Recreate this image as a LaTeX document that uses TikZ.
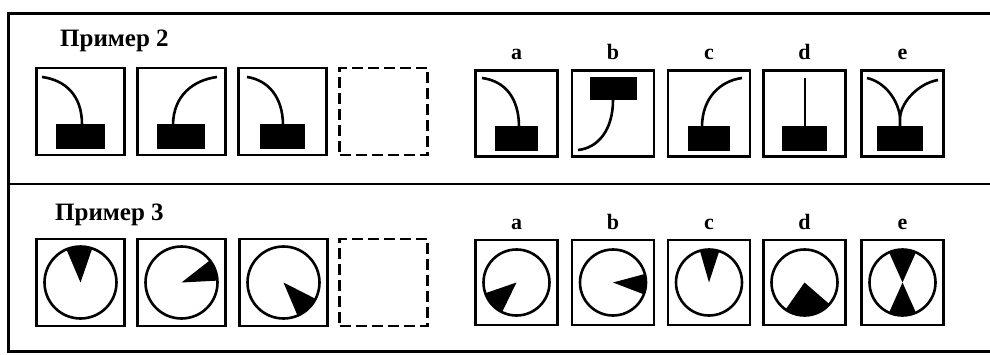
\documentclass[tikz,border=0pt]{standalone}
\usepackage{fontspec}
\setmainfont{Liberation Serif}
\begin{document}
\begin{tikzpicture}[x=1pt,y=1pt,
    cell/.style={draw,line width=2.8pt,minimum width=88pt,minimum height=87pt,inner sep=0pt},
    choice/.style={cell,minimum width=82pt,minimum height=86pt},
    blank/.style={cell,line width=2.4pt,dash pattern=on 11pt off 5pt},
    tag/.style={font=\bfseries\fontsize{22}{24}\selectfont,anchor=base,inner sep=0pt},
    title/.style={font=\bfseries\fontsize{25}{28}\selectfont,anchor=base west,inner sep=0pt},
    wire/.style={line width=2.6pt},
    lamp/.style={fill=black}]
\useasboundingbox (0,0) rectangle (990,354);
% frame
\draw[line width=3pt] (990,340) -- (8,340) -- (8,3) -- (990,3);
\draw[line width=2.6pt] (8,170) -- (990,170);

% Пример 2
\node[title] (t2) at (60,307) {Пример 2};
\foreach \n/\x in {1/80.5,2/181.5,3/282.5}
  \node[cell] (p\n) at (\x,242.5) {};
\node[blank] (p4) at (383.5,242.5) {};
\foreach \n/\x in {a/516.5,b/613,c/709,d/804.5,e/902.5}{
  \node[choice] (\n1) at (\x,240.5) {};
  \node[tag] (l\n1) at ([yshift=10pt]\n1.north) {\n};
}
\begin{scope}[shift={(p1.center)}]
  \draw[wire] (-38.5,34.5) .. controls (-15.5,31.5) and (1.5,16.5) .. (1.5,-13);
  \fill[lamp] (-25,-12.5) rectangle (24,-37);
\end{scope}
\begin{scope}[shift={(p2.center)}]
  \draw[wire] (35.5,34.5) .. controls (12.5,31.5) and (-8.5,16.5) .. (-8.5,-14);
  \fill[lamp] (-24.5,-13) rectangle (23.5,-37);
\end{scope}
\begin{scope}[shift={(p3.center)}]
  \draw[wire] (-35.5,34.5) .. controls (-14.5,31.5) and (0.5,14.5) .. (0.5,-14);
  \fill[lamp] (-22.5,-13) rectangle (22.5,-37);
\end{scope}
% choices
\begin{scope}[shift={(a1.center)}]
  \draw[wire] (-34.5,35.5) .. controls (-11.5,32.5) and (2.5,15.5) .. (2.5,-13.5);
  \fill[lamp] (-21.5,-12.5) rectangle (21.5,-37);
\end{scope}
\begin{scope}[shift={(b1.center)}]
  \fill[lamp] (-23,36) rectangle (24,13);
  \draw[wire] (0,13.5) .. controls (0,-16.5) and (-15,-34.5) .. (-35,-36.5);
\end{scope}
\begin{scope}[shift={(c1.center)}]
  \draw[wire] (33,35.5) .. controls (11,32.5) and (-7,15.5) .. (-7,-13.5);
  \fill[lamp] (-21,-12.5) rectangle (21,-37);
\end{scope}
\begin{scope}[shift={(d1.center)}]
  \draw[wire] (0.5,35.5) -- (0.5,-13.5);
  \fill[lamp] (-22.5,-12.5) rectangle (22.5,-37);
\end{scope}
\begin{scope}[shift={(e1.center)}]
  \draw[wire] (-35.5,35.5) .. controls (-17.5,31.5) and (-4.5,13.5) .. (-2.5,-3.5);
  \draw[wire] (35.5,33.5) .. controls (17.5,30.5) and (-0.5,13.5) .. (-2.5,-3.5) -- (-2.5,-13.5);
  \fill[lamp] (-25.5,-12.5) rectangle (20.5,-37);
\end{scope}

% Пример 3
\node[title] (t3) at (55,134) {Пример 3};
\foreach \n/\x in {1/80.5,2/181.5,3/283.5}
  \node[cell] (q\n) at (\x,71.5) {};
\node[blank] (q4) at (383.5,71.5) {};
\foreach \n/\x in {a/516.5,b/613,c/709,d/804.5,e/902.5}{
  \node[choice,minimum height=85pt] (\n2) at (\x,71.5) {};
  \node[tag] (l\n2) at ([yshift=9pt]\n2.north) {\n};
}
\foreach \n/\s/\e/\r in {q1/71/113/36, q2/3/38/36, q3/-67/-27/36,
    a2/199/244/33, b2/-21/15/33, c2/72/106/33, d2/235/319/33}{
  \fill[lamp] (\n.center) -- ++(\s:\r) arc[start angle=\s,end angle=\e,radius=\r] -- cycle;
  \draw[wire] (\n.center) circle[radius=\r];
}
\fill[lamp] (e2.center) -- ++(66:33) arc[start angle=66,end angle=114,radius=33] -- cycle;
\fill[lamp] (e2.center) -- ++(246:33) arc[start angle=246,end angle=294,radius=33] -- cycle;
\draw[wire] (e2.center) circle[radius=33];
\end{tikzpicture}
\end{document}
